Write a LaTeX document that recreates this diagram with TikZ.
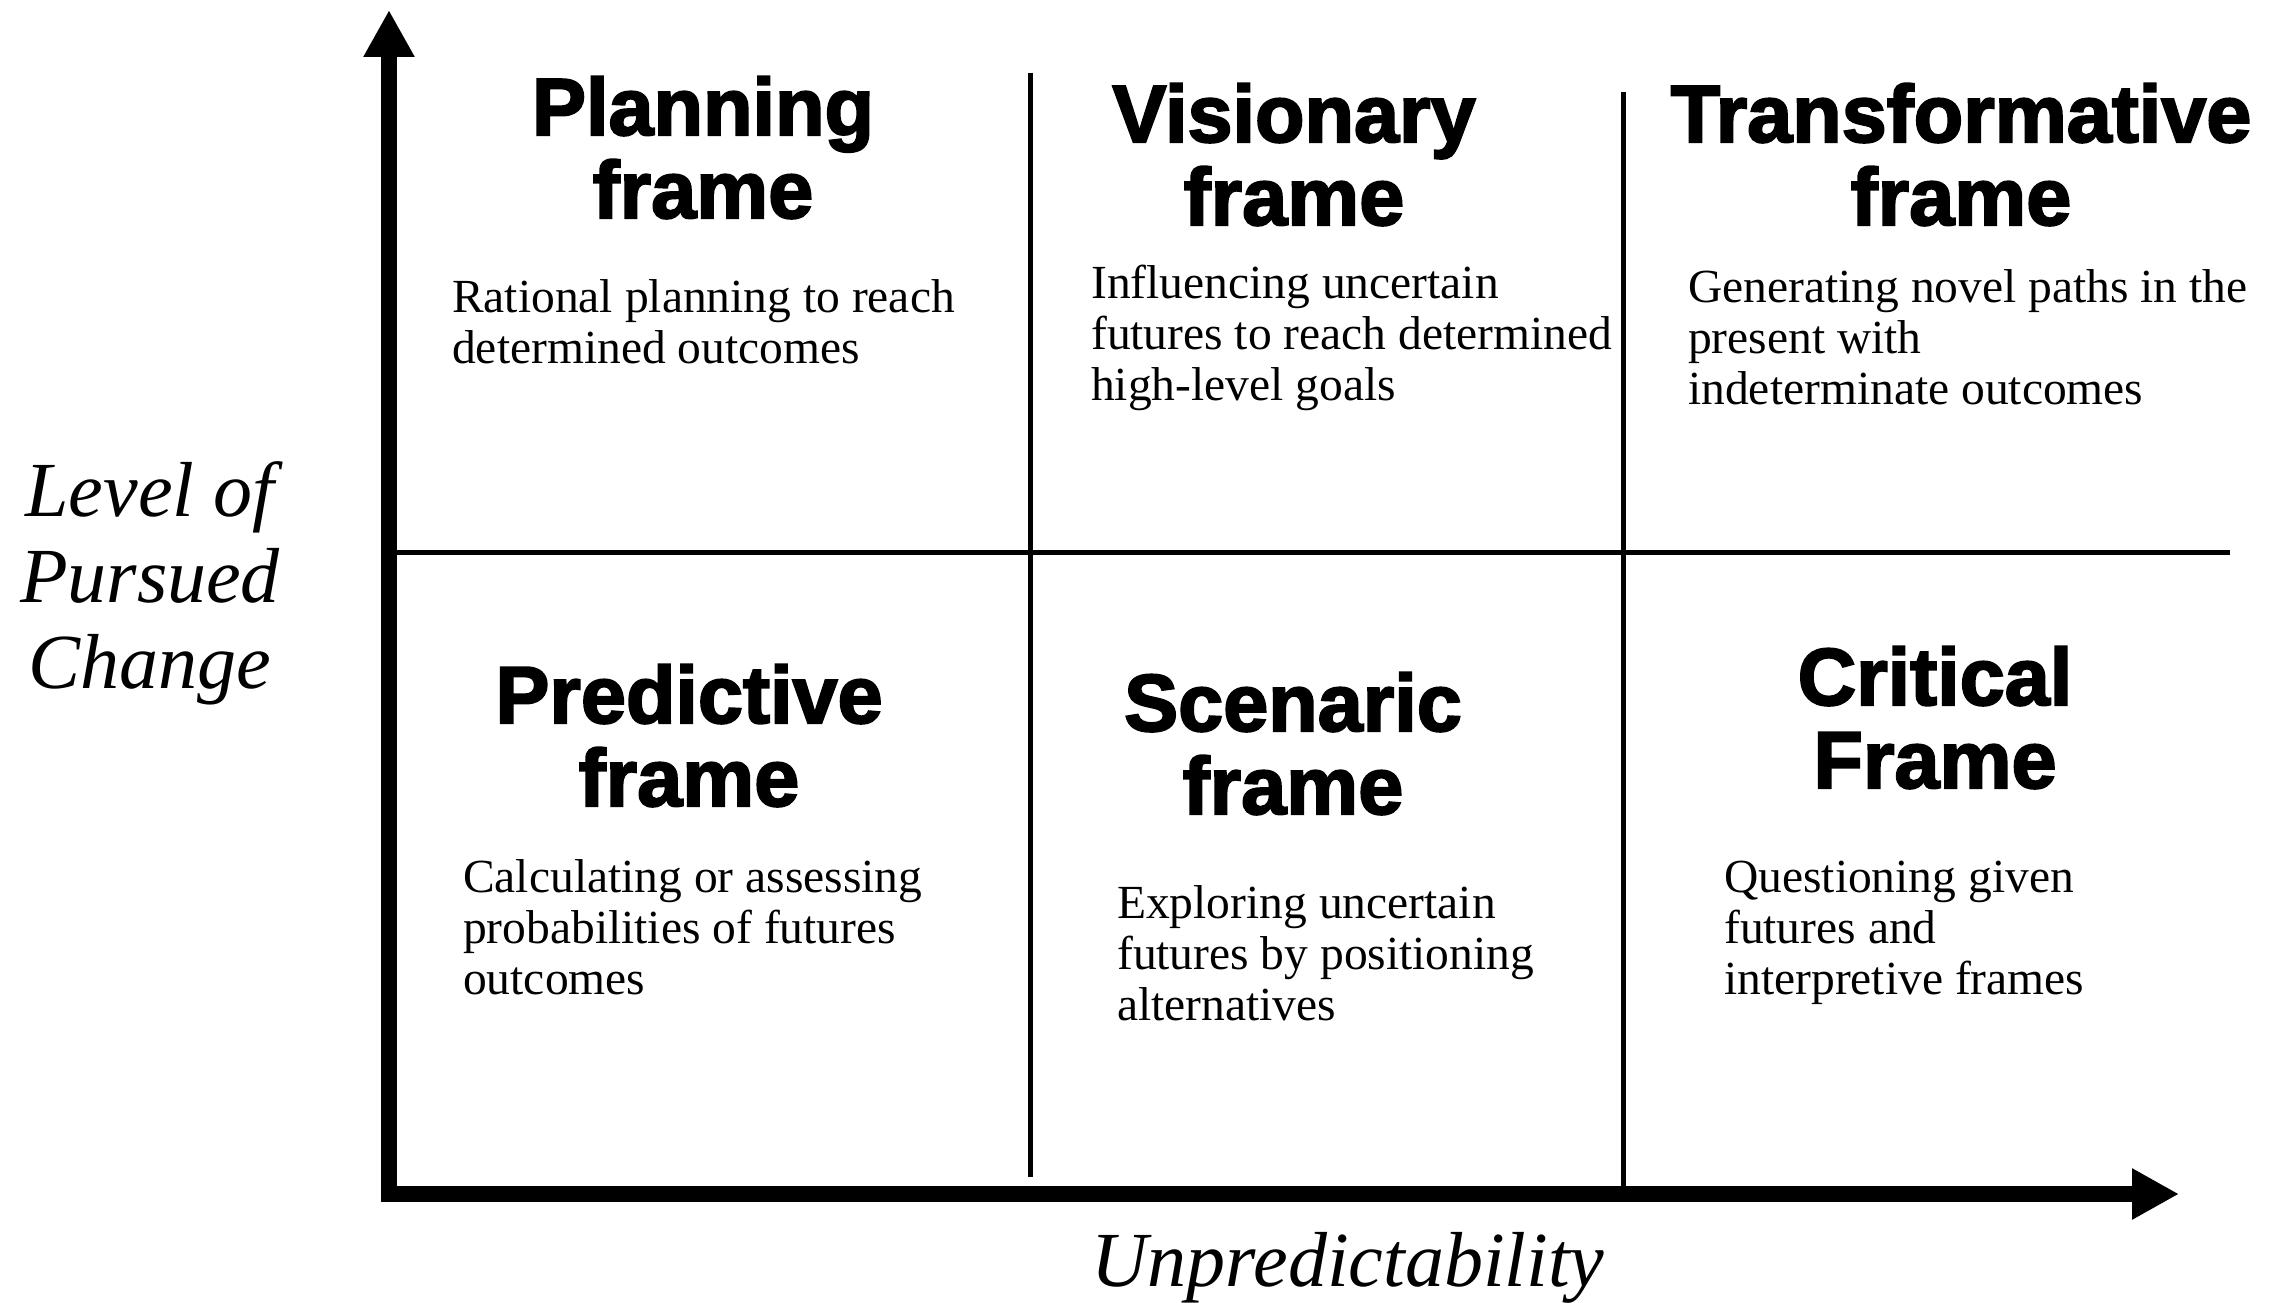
\documentclass[tikz,border=0pt]{standalone}
\usepackage{fontspec}
\setmainfont{Liberation Serif}
\newfontfamily\headfont[FakeBold=2.5]{Liberation Sans Bold}
\usetikzlibrary{arrows.meta}

\begin{document}
\begin{tikzpicture}[x=1pt,y=-1pt,
    frame/.style={font=\headfont\fontsize{81}{83}\selectfont,align=center,anchor=base,inner sep=0},
    blurb/.style={font=\fontsize{47.5}{51}\selectfont,align=left,anchor=base west,inner sep=0},
    axislabel/.style={font=\itshape\fontsize{78}{86}\selectfont,align=center,anchor=base,inner sep=0},
    axis/.style={line width=16pt,line join=miter,{Triangle[length=47pt,width=48pt]}-{Triangle[length=47pt,width=48pt]}},
    divider/.style={line width=5pt}]
    \useasboundingbox (0,0) rectangle (2278,1303);

    \coordinate (o) at (389,1194);
    \coordinate (ytip) at (389,10);
    \coordinate (xtip) at (2179,1194);
    \coordinate (midl) at (389,552);
    \coordinate (midr) at (2230,552);
    \coordinate (d1top) at (1030,73);
    \coordinate (d1bot) at (1030,1177);
    \coordinate (d2top) at (1623,92);
    \coordinate (d2bot) at (1623,1194);

    \draw[axis] (ytip) -- (o) -- (xtip);
    \draw[divider] (midl) -- (midr);
    \draw[divider] (d1top) -- (d1bot);
    \draw[divider] (d2top) -- (d2bot);

    % headings sit on the baseline of their last line
    \node[frame] (planning) at (703,218) {Planning\\frame};
    \node[frame] (visionary) at (1294,225) {Visionary\\frame};
    \node[frame] (transformative) at (1961,225) {Transformative\\frame};
    \node[frame] (predictive) at (689,806) {Predictive\\frame};
    \node[frame] (scenaric) at (1293,814) {Scenaric\\frame};
    \node[frame] (critical) at (1935,788) {Critical\\Frame};

    \node[blurb] (planningtxt) at (452,363) {Rational planning to reach\\determined outcomes};
    \node[blurb] (visionarytxt) at (1091,400) {Influencing uncertain\\futures to reach determined\\high-level goals};
    \node[blurb] (transformativetxt) at (1688,404) {Generating novel paths in the\\present with\\indeterminate outcomes};
    \node[blurb] (predictivetxt) at (463,994) {Calculating or assessing\\probabilities of futures\\outcomes};
    \node[blurb] (scenarictxt) at (1117,1020) {Exploring uncertain\\futures by positioning\\alternatives};
    \node[blurb] (criticaltxt) at (1724,994) {Questioning given\\futures and\\interpretive frames};

    \node[axislabel] (ylabel) at (150,688) {Level of\\Pursued\\Change};
    \node[axislabel] (xlabel) at (1348,1286) {Unpredictability};
\end{tikzpicture}
\end{document}
